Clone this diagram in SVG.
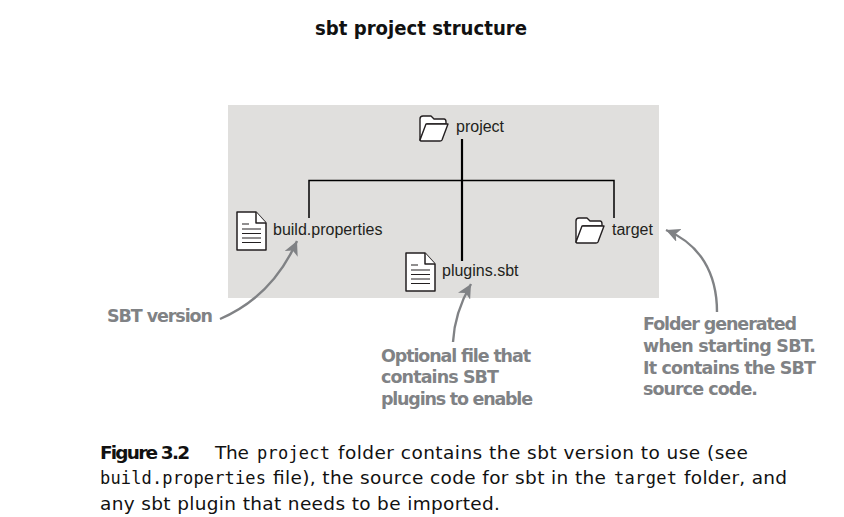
<svg xmlns="http://www.w3.org/2000/svg" width="844" height="517" viewBox="0 0 844 517">
<style>
.lab{font:16px "Liberation Sans",Arial,sans-serif;fill:#231f20}
.call{font:bold 17.5px "DejaVu Sans",sans-serif;fill:#808285}
.cap{font:18.5px "DejaVu Sans",sans-serif;fill:#111}
.capb{font:bold 18.5px "DejaVu Sans",sans-serif;fill:#111}
.mono{font:17px "DejaVu Sans Mono",monospace;fill:#111}
.ico{fill:#fff;stroke:#231f20;stroke-width:1.5;stroke-linejoin:round}
.fold{fill:#fff;stroke:#231f20;stroke-width:1.4;stroke-linejoin:round}
.tree{fill:none;stroke:#000;stroke-width:1.5}
.trunk{fill:none;stroke:#000;stroke-width:2.2}
.arr{fill:none;stroke:#808285;stroke-width:2.4}
</style>
<defs>
<marker id="ah" markerUnits="userSpaceOnUse" markerWidth="16" markerHeight="14" refX="14" refY="7" orient="auto"><path d="M0 0L14 7L0 14L3.5 7Z" fill="#808285"/></marker>
<g id="folderIco"><path class="fold" d="M0 23V3Q0 0 3 0H11L14 3H24Q26 3 26 6V8H7L0 24Z"/><path class="fold" d="M0 24L6 8H28L22 24Q21.500 25 20 25H2Q0 25 0 24Z"/></g>
<g id="fileIco"><path class="ico" d="M0 0H19L29 11V38H0Z"/><path class="ico" d="M19 0V11H29" fill="none"/><path d="M5 12H12M5 17H24M5 21.500H24M5 26H24M5 30.500H24" stroke="#231f20" stroke-width="1.200" fill="none"/></g>
</defs>
<text id="title" x="315" y="35" font-family="DejaVu Sans,sans-serif" font-weight="bold" font-size="19" fill="#111" textLength="212" lengthAdjust="spacingAndGlyphs">sbt project structure</text>
<rect id="panel" x="228" y="105" width="431" height="193" fill="#e0dfdd"/>
<g id="connectors">
<path class="tree" d="M309 218V180.500H614V218"/>
<path class="trunk" d="M462 139V261"/>
<path class="arr" marker-end="url(#ah)" d="M220 319C255 304 280 279 297 241"/>
<path class="arr" marker-end="url(#ah)" d="M453 342C454 323 459 305 471 284"/>
<path class="arr" marker-end="url(#ah)" d="M717 312C717 273 700 244 666 230"/>
</g>
<g id="node-project"><use href="#folderIco" x="420" y="116"/><text class="lab" x="456" y="132">project</text></g>
<g id="node-build"><use href="#fileIco" x="237" y="212"/><text class="lab" x="273" y="235">build.properties</text></g>
<g id="node-plugins"><use href="#fileIco" x="406" y="253"/><text class="lab" x="442" y="276">plugins.sbt</text></g>
<g id="node-target"><use href="#folderIco" x="576" y="218"/><text class="lab" x="612" y="235">target</text></g>
<g id="callouts">
<text class="call" x="107" y="322" textLength="106">SBT version</text>
<text class="call" x="381" y="362" textLength="150">Optional file that</text>
<text class="call" x="381" y="383" textLength="118">contains SBT</text>
<text class="call" x="381" y="405" textLength="152">plugins to enable</text>
<text class="call" x="643" y="330" textLength="154">Folder generated</text>
<text class="call" x="643" y="352" textLength="173">when starting SBT.</text>
<text class="call" x="643" y="374" textLength="173">It contains the SBT</text>
<text class="call" x="643" y="395" textLength="115">source code.</text>
</g>
<g id="caption">
<text class="capb" x="100" y="459" textLength="90">Figure 3.2</text>
<text class="cap" x="215" y="459" textLength="34">The</text>
<text class="mono" x="257" y="459" textLength="73">project</text>
<text class="cap" x="338" y="459" textLength="410">folder contains the sbt version to use (see</text>
<text class="mono" x="100" y="484" textLength="166">build.properties</text>
<text class="cap" x="273" y="484" textLength="333">file), the source code for sbt in the</text>
<text class="mono" x="614" y="484" textLength="63">target</text>
<text class="cap" x="684" y="484" textLength="103">folder, and</text>
<text class="cap" x="100" y="510" textLength="400">any sbt plugin that needs to be imported.</text>
</g>
</svg>
